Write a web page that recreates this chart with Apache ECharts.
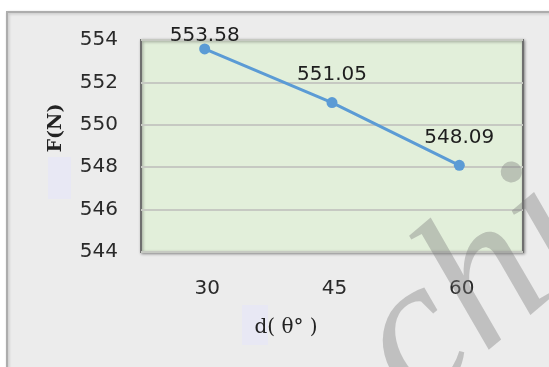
<!DOCTYPE html>
<html>
<head>
<meta charset="utf-8">
<script src="https://cdn.jsdelivr.net/npm/echarts@6/dist/echarts.min.js"></script>
<style>
  html, body { margin: 0; padding: 0; background: #ffffff; }
  #chart { width: 549px; height: 367px; }
</style>
</head>
<body>
<div id="chart"></div>
<script>
// Force F (N) against angle d (θ°)
const categories = ['30', '45', '60'];
const forceValues = [553.58, 551.05, 548.09];
const yMin = 544;
const yMax = 554;
const yStep = 2;

const chart = echarts.init(document.getElementById('chart'), null, { renderer: 'canvas' });

const seriesData = forceValues.map((v, i) => ({
  value: v,
  label: { distance: i === 0 ? -2 : 12 }
}));

chart.setOption({
  backgroundColor: '#ffffff',
  animation: false,
  graphic: [
    {
      type: 'rect',
      z: -10,
      shape: { x: 7, y: 12, width: 560, height: 380 },
      style: {
        fill: '#ececec',
        stroke: '#adadad',
        lineWidth: 2,
        shadowBlur: 3,
        shadowColor: 'rgba(0,0,0,0.2)',
        shadowOffsetX: 1,
        shadowOffsetY: 1
      }
    },
    {
      type: 'rect',
      z: -5,
      shape: { x: 48, y: 157, width: 23, height: 42 },
      style: { fill: '#e8e8f4' }
    },
    {
      type: 'rect',
      z: -5,
      shape: { x: 242, y: 305, width: 26, height: 40 },
      style: { fill: '#e8e8f4' }
    },
    {
      // watermark lettering across the lower right corner
      type: 'text',
      z: 100,
      x: 418,
      y: 415,
      rotation: 40 * Math.PI / 180,
      style: {
        text: 'chi',
        x: 0,
        y: 43,
        verticalAlign: 'bottom',
        font: 'italic 200px "Liberation Serif"',
        fill: 'rgba(120,120,120,0.38)'
      }
    }
  ],
  grid: {
    left: 141,
    right: 26,
    top: 40,
    bottom: 115,
    show: true,
    backgroundColor: '#e2efda',
    borderColor: '#6f6f6f',
    borderWidth: 2,
    shadowColor: 'rgba(0,0,0,0.35)',
    shadowBlur: 3,
    shadowOffsetX: 1,
    shadowOffsetY: 1
  },
  xAxis: {
    type: 'category',
    data: categories,
    boundaryGap: true,
    name: 'd( θ° )',
    nameLocation: 'middle',
    nameGap: 66,
    nameTextStyle: {
      fontFamily: 'DejaVu Serif',
      fontSize: 20,
      color: '#222222',
      padding: [0, 92, 0, 0]
    },
    axisLine: { show: false },
    axisTick: { show: false },
    axisLabel: {
      fontFamily: 'DejaVu Sans',
      fontSize: 20,
      color: '#2a2a2a',
      margin: 27,
      padding: [0, 0, 0, 5]
    },
    splitLine: { show: false }
  },
  yAxis: {
    type: 'value',
    min: yMin,
    max: yMax,
    interval: yStep,
    name: 'F(N)',
    nameLocation: 'middle',
    nameGap: 75,
    nameRotate: 90,
    nameTextStyle: {
      fontFamily: 'DejaVu Serif',
      fontSize: 19,
      fontWeight: 'bold',
      color: '#222222',
      padding: [0, 0, 0, 36]
    },
    axisLine: { show: false },
    axisTick: { show: false },
    axisLabel: {
      fontFamily: 'DejaVu Sans',
      fontSize: 20,
      color: '#2a2a2a',
      margin: 23
    },
    splitLine: { show: true, lineStyle: { color: '#c6c9c2', width: 2 } }
  },
  series: [
    {
      type: 'line',
      data: seriesData,
      symbol: 'circle',
      symbolSize: 11,
      lineStyle: { color: '#5b9bd5', width: 3 },
      itemStyle: { color: '#5b9bd5' },
      label: {
        show: true,
        position: 'top',
        fontFamily: 'DejaVu Sans',
        fontSize: 20,
        color: '#1e1e1e'
      }
    }
  ]
});
</script>
</body>
</html>
